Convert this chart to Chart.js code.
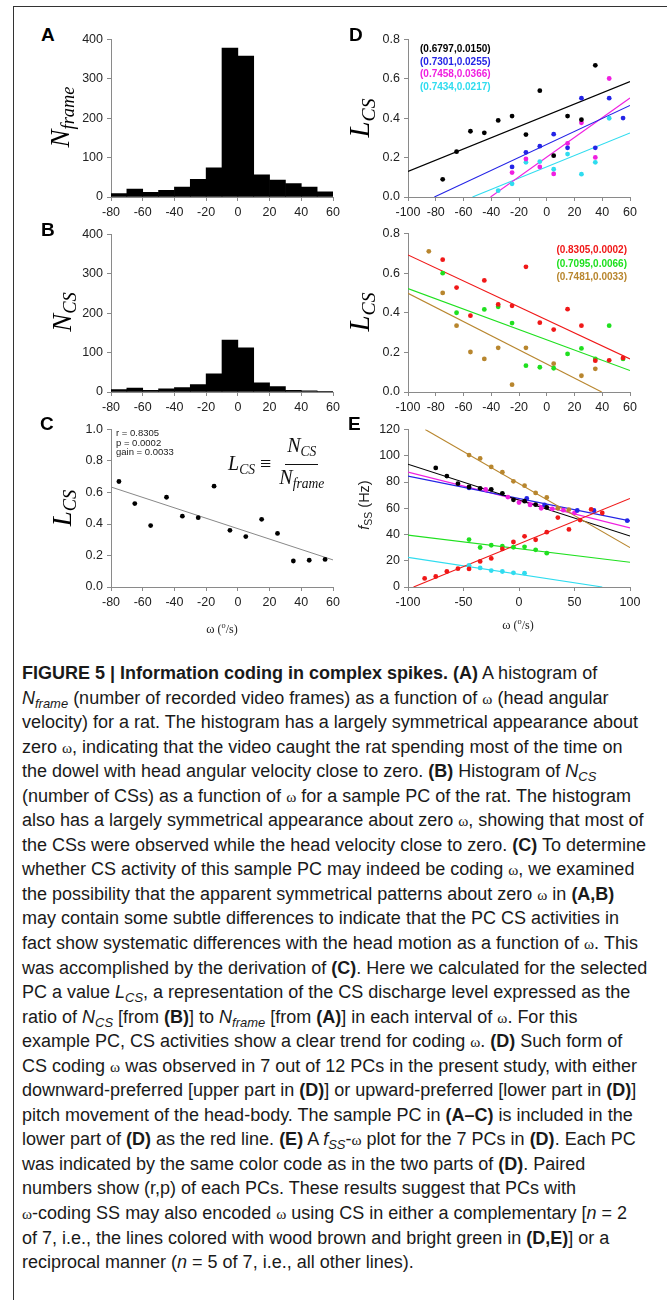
<!DOCTYPE html>
<html>
<head>
<meta charset="utf-8">
<script src="https://cdn.jsdelivr.net/npm/chart.js@4.4.0/dist/chart.umd.min.js"></script>
<style>
  html,body{margin:0;padding:0;background:#fff;}
  body{width:667px;height:1300px;position:relative;overflow:hidden;font-family:'Liberation Sans',Arial,sans-serif;}
  canvas{position:absolute;}
  .abs{position:absolute;white-space:nowrap;}
  .letter{position:absolute;font-family:'Liberation Sans',Arial,sans-serif;font-weight:bold;font-size:19px;color:#000;line-height:1;}
  .ytitle{position:absolute;transform:translate(-50%,-50%) rotate(-90deg);white-space:nowrap;font-family:'Liberation Serif','DejaVu Serif',serif;font-style:italic;color:#000;line-height:1;}
  .ytitle sub{font-size:0.68em;vertical-align:-0.28em;}
  .xtitle{position:absolute;transform:translate(-50%,-50%);white-space:nowrap;font-family:'Liberation Serif',serif;font-size:12px;color:#222;}
  .leg{position:absolute;font-family:'Liberation Sans',Arial,sans-serif;font-weight:bold;font-size:10px;line-height:12.5px;white-space:nowrap;}
  .ann{position:absolute;font-family:'Liberation Sans',Arial,sans-serif;font-size:9.5px;line-height:9.7px;color:#222;white-space:nowrap;}
  .formula{position:absolute;font-family:'Liberation Serif',serif;font-size:20px;display:flex;align-items:center;white-space:nowrap;color:#111;}
  .formula i{font-style:italic;}
  .formula sub{font-size:0.68em;vertical-align:-0.3em;font-style:italic;}
  .frac{display:inline-flex;flex-direction:column;align-items:center;margin-left:6px;}
  .frac .num{border-bottom:1px solid #111;padding:0 2px 1px 2px;line-height:22px;}
  .frac .den{line-height:24px;padding:0 2px;}
  #caption{position:absolute;left:22px;top:661px;font-family:'Liberation Sans Narrow','Liberation Sans',Arial,sans-serif;font-size:18px;line-height:24.55px;color:#1a1a1a;}
  #caption div{white-space:nowrap;height:24.55px;}
  #caption b{font-weight:bold;}
  #caption sub{font-size:0.72em;vertical-align:-0.3em;line-height:0;}
  .w{font-family:'Liberation Serif',serif;font-size:0.85em;line-height:0;}
  #frameL{position:absolute;left:13px;top:6px;width:1px;height:1294px;background:#333;}
  #frameT{position:absolute;left:13px;top:6px;width:654px;height:1px;background:#333;}
</style>
</head>
<body>
<div id="frameL"></div><div id="frameT"></div>

<canvas id="cA" width="290" height="200" style="left:62px;top:28px"></canvas>
<canvas id="cB" width="290" height="200" style="left:62px;top:223px"></canvas>
<canvas id="cC" width="290" height="215" style="left:62px;top:418px"></canvas>
<canvas id="cD1" width="290" height="200" style="left:370px;top:28px"></canvas>
<canvas id="cD2" width="290" height="200" style="left:370px;top:222px"></canvas>
<canvas id="cE" width="290" height="215" style="left:370px;top:418px"></canvas>

<div class="letter" style="left:41px;top:25px">A</div>
<div class="letter" style="left:41px;top:220px">B</div>
<div class="letter" style="left:40px;top:414px">C</div>
<div class="letter" style="left:349px;top:25px">D</div>
<div class="letter" style="left:348px;top:414px">E</div>

<div class="ytitle" style="left:62px;top:117px;font-size:27px"><i>N</i><sub>frame</sub></div>
<div class="ytitle" style="left:64px;top:312px;font-size:27px"><i>N</i><sub>CS</sub></div>
<div class="ytitle" style="left:64px;top:508px;font-size:27px"><i>L</i><sub>CS</sub></div>
<div class="ytitle" style="left:362px;top:118px;font-size:29px"><i>L</i><sub>CS</sub></div>
<div class="ytitle" style="left:362px;top:312px;font-size:29px"><i>L</i><sub>CS</sub></div>
<div class="ytitle" style="left:366px;top:505px;font-size:14.5px;font-family:'Liberation Sans',Arial,sans-serif;font-style:normal;color:#222"><i>f</i><sub style="font-size:0.72em;vertical-align:-0.25em">SS</sub> (Hz)</div>

<div class="xtitle" style="left:222px;top:629px"><span style="font-size:1.05em">ω</span> (<sup style="font-size:0.7em">o</sup>/s)</div>
<div class="xtitle" style="left:518px;top:625px"><span style="font-size:1.05em">ω</span> (<sup style="font-size:0.7em">o</sup>/s)</div>

<div class="ann" style="left:116px;top:428px">r = 0.8305<br>p = 0.0002<br>gain = 0.0033</div>
<div class="formula" style="left:228px;top:434px"><span><i>L</i><sub>CS</sub> ≡</span><span class="frac"><span class="num"><i>N</i><sub>CS</sub></span><span class="den"><i>N</i><sub>frame</sub></span></span></div>

<div class="leg" style="left:420px;top:43px">
  <div style="color:#000">(0.6797,0.0150)</div>
  <div style="color:#2424e6">(0.7301,0.0255)</div>
  <div style="color:#f01fe0">(0.7458,0.0366)</div>
  <div style="color:#2fdcef">(0.7434,0.0217)</div>
</div>
<div class="leg" style="right:40px;top:243px;text-align:right;line-height:13.5px">
  <div style="color:#f01818">(0.8305,0.0002)</div>
  <div style="color:#1fe01f">(0.7095,0.0066)</div>
  <div style="color:#b8862e">(0.7481,0.0033)</div>
</div>

<div id="caption">
<div><b>FIGURE 5 | Information coding in complex spikes. (A)</b> A histogram of</div>
<div><i>N<sub>frame</sub></i> (number of recorded video frames) as a function of <span class="w">ω</span> (head angular</div>
<div>velocity) for a rat. The histogram has a largely symmetrical appearance about</div>
<div>zero <span class="w">ω</span>, indicating that the video caught the rat spending most of the time on</div>
<div>the dowel with head angular velocity close to zero. <b>(B)</b> Histogram of <i>N<sub>CS</sub></i></div>
<div>(number of CSs) as a function of <span class="w">ω</span> for a sample PC of the rat. The histogram</div>
<div>also has a largely symmetrical appearance about zero <span class="w">ω</span>, showing that most of</div>
<div>the CSs were observed while the head velocity close to zero. <b>(C)</b> To determine</div>
<div>whether CS activity of this sample PC may indeed be coding <span class="w">ω</span>, we examined</div>
<div>the possibility that the apparent symmetrical patterns about zero <span class="w">ω</span> in <b>(A,B)</b></div>
<div>may contain some subtle differences to indicate that the PC CS activities in</div>
<div>fact show systematic differences with the head motion as a function of <span class="w">ω</span>. This</div>
<div>was accomplished by the derivation of <b>(C)</b>. Here we calculated for the selected</div>
<div>PC a value <i>L<sub>CS</sub></i>, a representation of the CS discharge level expressed as the</div>
<div>ratio of <i>N<sub>CS</sub></i> [from <b>(B)</b>] to <i>N<sub>frame</sub></i> [from <b>(A)</b>] in each interval of <span class="w">ω</span>. For this</div>
<div>example PC, CS activities show a clear trend for coding <span class="w">ω</span>. <b>(D)</b> Such form of</div>
<div>CS coding <span class="w">ω</span> was observed in 7 out of 12 PCs in the present study, with either</div>
<div>downward-preferred [upper part in <b>(D)</b>] or upward-preferred [lower part in <b>(D)</b>]</div>
<div>pitch movement of the head-body. The sample PC in <b>(A–C)</b> is included in the</div>
<div>lower part of <b>(D)</b> as the red line. <b>(E)</b> A <i>f<sub>SS</sub></i>-<span class="w">ω</span> plot for the 7 PCs in <b>(D)</b>. Each PC</div>
<div>was indicated by the same color code as in the two parts of <b>(D)</b>. Paired</div>
<div>numbers show (r,p) of each PCs. These results suggest that PCs with</div>
<div><span class="w">ω</span>-coding SS may also encoded <span class="w">ω</span> using CS in either a complementary [<i>n</i> = 2</div>
<div>of 7, i.e., the lines colored with wood brown and bright green in <b>(D,E)</b>] or a</div>
<div>reciprocal manner (<i>n</i> = 5 of 7, i.e., all other lines).</div>
</div>

<script>
// ---------- DATA ----------
// Histogram bins (centres, deg/s)
const histBins = [-75,-65,-55,-45,-35,-25,-15,-5,5,15,25,35,45,55];
const nFrame   = [9,20,12,17,25,45,74,378,358,56,43,34,25,13];
const nCS      = [6,10,4,8,11,19,46,132,112,23,14,4,3,2];

// Panel C
const cOmega = [-75,-65,-55,-45,-35,-25,-15,-5,5,15,25,35,45,55];
const cLcs   = [0.67,0.53,0.39,0.57,0.45,0.44,0.64,0.36,0.32,0.43,0.34,0.165,0.17,0.175];
const cFitX  = [-80,60];
const cFitY  = [0.635,0.172];

// Panel D upper
const dBlackX = [-75,-65,-55,-45,-35,-25,-15,-5,5,15,25,35];
const dBlackY = [0.09,0.23,0.334,0.326,0.389,0.411,0.317,0.54,0.21,0.411,0.393,0.669];
const dBlueX  = [-25,-15,-5,5,15,25,35,45,55];
const dBlueY  = [0.153,0.227,0.258,0.319,0.25,0.502,0.25,0.502,0.401];
const dMagX   = [-25,-15,-5,5,15,25,35,45];
const dMagY   = [0.124,0.193,0.153,0.117,0.272,0.377,0.201,0.602];
const dCyanX  = [-35,-25,-15,-5,5,15,25,35,45];
const dCyanY  = [0.032,0.067,0.176,0.18,0.141,0.218,0.116,0.176,0.40];
const dBlackFitX = [-100,60], dBlackFitY = [0.13,0.586];
const dBlueFitX  = [-81,60],  dBlueFitY  = [0,0.465];
const dMagFitX   = [-40.5,60],dMagFitY   = [0,0.503];
const dCyanFitX  = [-53.5,60],dCyanFitY  = [0,0.325];

// Panel D lower
const dRedX   = [-75,-65,-55,-45,-35,-25,-15,-5,5,15,25,35,45,55];
const dRedY   = [0.668,0.527,0.385,0.563,0.442,0.435,0.632,0.35,0.315,0.418,0.335,0.158,0.16,0.172];
const dGreenX = [-75,-65,-45,-35,-25,-15,-5,5,15,25,35,45,55];
const dGreenY = [0.60,0.40,0.417,0.43,0.348,0.133,0.125,0.12,0.192,0.22,0.167,0.335,0.167];
const dBrownX = [-85,-75,-65,-55,-45,-35,-25,-15,5,25,35];
const dBrownY = [0.71,0.50,0.335,0.202,0.167,0.223,0.037,0.223,0.143,0.082,0.117];
const dRedFitX   = [-100,60],  dRedFitY   = [0.692,0.167];
const dGreenFitX = [-100,60],  dGreenFitY = [0.522,0.108];
const dBrownFitX = [-100,39.6],dBrownFitY = [0.498,0];

// Panel E (f_SS, Hz)
const eRedX   = [-85,-75,-65,-55,-45,-35,-25,-15,-5,5,15,25,35,45,55,65,75];
const eRedY   = [6.5,8,11.8,14,13.8,19.5,21.8,29,34.3,38.6,36,41.8,52.9,43.9,51,59.1,56.4];
const eBrownX = [-45,-35,-25,-15,-5,5,15,25,35,45];
const eBrownY = [100.5,98,91.5,87.5,80.5,77.2,71.7,68.2,60,59];
const eBlackX = [-75,-65,-55,-45,-35,-25,-15,-5,5,15,25];
const eBlackY = [90.7,84.5,78.7,76.2,75.2,74.4,71.4,66.4,65.4,62.7,60.6];
const eBlueX  = [-45,7,23,52.5,67.5,97.5];
const eBlueY  = [75.5,67.5,62.5,58.3,58.3,50.5];
const eMagX   = [-30,-10,0,10,20,30,40,50];
const eMagY   = [74.3,68.5,64.3,62.5,60,59.5,58.5,56.5];
const eGreenX = [-45,-35,-25,-15,-5,5,15,25];
const eGreenY = [36.1,30.1,31.8,31.1,30.3,30.6,28.3,25.8];
const eCyanX  = [-45,-35,-25,-15,-5,5];
const eCyanY  = [16.5,14.5,12.5,11.8,10.8,10.5];
const eRedFitX   = [-95,100],  eRedFitY   = [0,67.5];
const eBrownFitX = [-84.5,100],eBrownFitY = [120,30];
const eBlackFitX = [-100,100], eBlackFitY = [93.5,38.8];
const eBlueFitX  = [-100,100], eBlueFitY  = [84.5,50.4];
const eMagFitX   = [-100,100], eMagFitY   = [87.5,45];
const eGreenFitX = [-100,100], eGreenFitY = [39.5,18.8];
const eCyanFitX  = [-100,75],  eCyanFitY  = [22.6,0];

// Tick settings
const histXTicks = {min:-80, max:60, step:20};
const histYTicks = {min:0, max:400, step:100};
const cYTicks = {min:0, max:1, step:0.2};
const dXTicks = {min:-100, max:60, step:20};
const dYTicks = {min:0, max:0.8, step:0.2};
const eXTicks = {min:-100, max:100, step:50};
const eYTicks = {min:0, max:120, step:20};

// ---------- HELPERS ----------
const COL = {black:'#000000', blue:'#2424e6', mag:'#f01fe0', cyan:'#2fdcef', red:'#f01818', green:'#1fe01f', brown:'#b8862e', fit:'#888888'};
Chart.defaults.font.family = "'Liberation Sans', Arial, sans-serif";
Chart.defaults.font.size = 12;
Chart.defaults.color = '#222';

function zip(xs, ys){ return xs.map((x,i)=>({x:x, y:ys[i]})); }
function pts(xs, ys, color, r){ return {type:'scatter', data:zip(xs,ys), backgroundColor:color, borderColor:color, pointRadius:r||2.4, pointBorderWidth:0, showLine:false}; }
function fit(xs, ys, color, w){ return {type:'line', data:zip(xs,ys), borderColor:color, borderWidth:w||1.1, pointRadius:0, fill:false, tension:0}; }

function axis(t, fmt, fitFn){
  return {
    type:'linear', min:t.min, max:t.max, offset:false,
    ticks:{stepSize:t.step, autoSkip:false, maxRotation:0, padding:4, color:'#222', font:{size:12.5},
      callback:(v)=> fmt ? v.toFixed(fmt) : String(Math.round(v))},
    grid:{display:true, drawOnChartArea:false, drawTicks:true, tickLength:4, color:'#8a8a8a', offset:false},
    border:{display:true, color:'#8a8a8a', width:1},
    afterFit: fitFn
  };
}

// area: chart area in page coords; box: canvas page box
function make(id, box, area, type, datasets, xt, yt, yfmt){
  const padTop = area.y0 - box.top;
  const padRight = (box.left + box.w) - area.x1;
  const yW = area.x0 - box.left;
  const xH = (box.top + box.h) - area.y1;
  return new Chart(document.getElementById(id), {
    type: type,
    data: {datasets: datasets},
    options: {
      responsive:false, animation:false, devicePixelRatio:1,
      layout:{padding:{top:padTop, right:padRight, left:0, bottom:0}},
      plugins:{legend:{display:false}, tooltip:{enabled:false}},
      scales:{
        x: axis(xt, 0, s=>{s.height = xH;}),
        y: axis(yt, yfmt, s=>{s.width = yW;})
      }
    }
  });
}

// ---------- CHARTS ----------
const histDs = (vals)=>[{type:'bar', data:zip(histBins, vals), backgroundColor:'#000', borderWidth:0, barPercentage:1, categoryPercentage:1, grouped:false}];

make('cA', {left:62,top:28,w:290,h:200}, {x0:111,x1:333,y0:38,y1:197}, 'bar', histDs(nFrame), histXTicks, histYTicks, 0);
make('cB', {left:62,top:223,w:290,h:200}, {x0:111,x1:333,y0:233,y1:392}, 'bar', histDs(nCS), histXTicks, histYTicks, 0);

make('cC', {left:62,top:418,w:290,h:215}, {x0:111,x1:333,y0:428,y1:587}, 'scatter', [
  pts(cOmega, cLcs, '#000', 2.4),
  fit(cFitX, cFitY, COL.fit, 1)
], histXTicks, cYTicks, 1);

make('cD1', {left:370,top:28,w:290,h:200}, {x0:408,x1:630,y0:38,y1:197}, 'scatter', [
  pts(dBlackX, dBlackY, COL.black),
  pts(dBlueX, dBlueY, COL.blue),
  pts(dMagX, dMagY, COL.mag),
  pts(dCyanX, dCyanY, COL.cyan),
  fit(dBlackFitX, dBlackFitY, COL.black),
  fit(dBlueFitX, dBlueFitY, COL.blue),
  fit(dMagFitX, dMagFitY, COL.mag),
  fit(dCyanFitX, dCyanFitY, COL.cyan)
], dXTicks, dYTicks, 1);

make('cD2', {left:370,top:222,w:290,h:200}, {x0:408,x1:630,y0:232,y1:392}, 'scatter', [
  pts(dRedX, dRedY, COL.red),
  pts(dGreenX, dGreenY, COL.green),
  pts(dBrownX, dBrownY, COL.brown),
  fit(dRedFitX, dRedFitY, COL.red),
  fit(dGreenFitX, dGreenFitY, COL.green),
  fit(dBrownFitX, dBrownFitY, COL.brown)
], dXTicks, dYTicks, 1);

make('cE', {left:370,top:418,w:290,h:215}, {x0:408,x1:630,y0:428,y1:587}, 'scatter', [
  pts(eRedX, eRedY, COL.red),
  pts(eBrownX, eBrownY, COL.brown),
  pts(eBlackX, eBlackY, COL.black),
  pts(eBlueX, eBlueY, COL.blue),
  pts(eMagX, eMagY, COL.mag),
  pts(eGreenX, eGreenY, COL.green),
  pts(eCyanX, eCyanY, COL.cyan),
  fit(eRedFitX, eRedFitY, COL.red),
  fit(eBrownFitX, eBrownFitY, COL.brown),
  fit(eBlackFitX, eBlackFitY, COL.black),
  fit(eBlueFitX, eBlueFitY, COL.blue),
  fit(eMagFitX, eMagFitY, COL.mag),
  fit(eGreenFitX, eGreenFitY, COL.green),
  fit(eCyanFitX, eCyanFitY, COL.cyan)
], eXTicks, eYTicks, 0);
</script>
</body>
</html>
